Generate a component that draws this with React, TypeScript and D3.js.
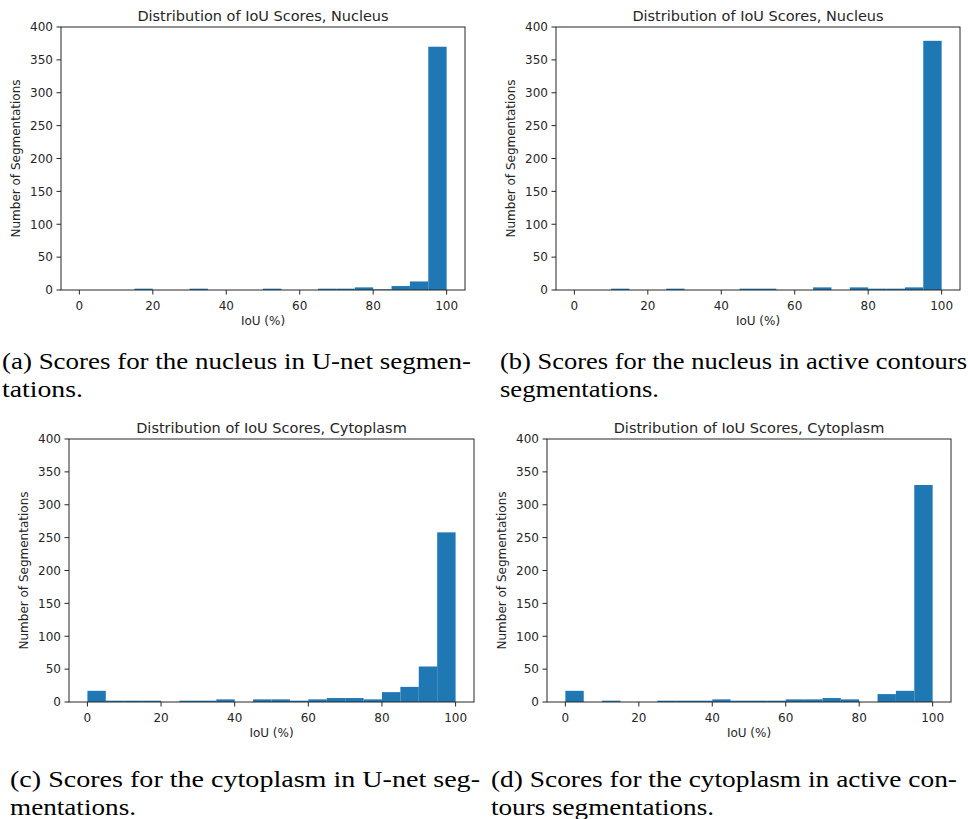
import React from "react";
import * as d3 from "d3";

// Histogram bins: 20 bins of width 5 over IoU 0..100
const binEdges = d3.range(0, 101, 5);
const nucleusUnet = [0, 0, 0, 2, 0, 0, 2, 0, 0, 0, 2, 0, 0, 2, 2, 4, 1, 6, 13, 370];
const nucleusActive = [0, 0, 2, 0, 0, 2, 0, 0, 0, 2, 2, 0, 0, 4, 0, 4, 2, 2, 4, 379];
const cytoUnet = [17, 2, 2, 2, 0, 2, 2, 4, 0, 4, 4, 2, 4, 6, 6, 4, 15, 23, 54, 258];
const cytoActive = [17, 0, 2, 0, 0, 2, 2, 2, 4, 2, 2, 2, 4, 4, 6, 4, 0, 12, 17, 330];

const xTicks = [0, 20, 40, 60, 80, 100];
const yTicks = [0, 50, 100, 150, 200, 250, 300, 350, 400];

const titles = [
  "Distribution of IoU Scores, Nucleus",
  "Distribution of IoU Scores, Nucleus",
  "Distribution of IoU Scores, Cytoplasm",
  "Distribution of IoU Scores, Cytoplasm",
];
const xLabel = "IoU (%)";
const yLabel = "Number of Segmentations";

const captions = [
  ["(a) Scores for the nucleus in U-net segmen-", "tations."],
  ["(b) Scores for the nucleus in active contours", "segmentations."],
  ["(c) Scores for the cytoplasm in U-net seg-", "mentations."],
  ["(d) Scores for the cytoplasm in active con-", "tours segmentations."],
];

const panelData = [nucleusUnet, nucleusActive, cytoUnet, cytoActive];

// layout
const frames = [
  { left: 61, top: 27, width: 404, height: 263 },
  { left: 556, top: 27, width: 404, height: 263 },
  { left: 69, top: 439, width: 405, height: 263 },
  { left: 547, top: 439, width: 404, height: 263 },
];
const captionPos = [
  { x: 2, x2: 471, w2: 81, y: 369 },
  { x: 500, x2: 967, w2: 159, y: 369 },
  { x: 10, x2: 480, w2: 126, y: 787 },
  { x: 491, x2: 957, w2: 223, y: 787 },
];

const BAR = "#1f77b4";
const INK = "#262626";
const FONT = "DejaVu Sans, sans-serif";
const SERIF = "'Liberation Serif', 'Times New Roman', serif";

function Panel({ idx }: { idx: number }) {
  const f = frames[idx];
  const counts = panelData[idx];
  const x = d3.scaleLinear().domain([-5, 105]).range([f.left, f.left + f.width]);
  const y = d3.scaleLinear().domain([0, 400]).range([f.top + f.height, f.top]);
  const bottom = f.top + f.height;
  return (
    <g>
      {counts.map((c, i) =>
        c > 0 ? (
          <rect
            key={i}
            x={x(binEdges[i])}
            y={y(c)}
            width={x(binEdges[i + 1]) - x(binEdges[i])}
            height={y(0) - y(c)}
            fill={BAR}
          />
        ) : null
      )}
      <rect
        x={f.left}
        y={f.top}
        width={f.width}
        height={f.height}
        fill="none"
        stroke={INK}
        strokeWidth={1}
      />
      {xTicks.map((t) => (
        <g key={"x" + t}>
          <line x1={x(t)} x2={x(t)} y1={bottom} y2={bottom + 4.5} stroke={INK} strokeWidth={1} />
          <text
            x={x(t)}
            y={bottom + 19.5}
            textAnchor="middle"
            style={{ fontFamily: FONT, fontSize: 12 }}
            fill={INK}
          >
            {t}
          </text>
        </g>
      ))}
      {yTicks.map((t) => (
        <g key={"y" + t}>
          <line x1={f.left - 4.5} x2={f.left} y1={y(t)} y2={y(t)} stroke={INK} strokeWidth={1} />
          <text
            x={f.left - 8}
            y={y(t)}
            dy="0.36em"
            textAnchor="end"
            style={{ fontFamily: FONT, fontSize: 12 }}
            fill={INK}
          >
            {t}
          </text>
        </g>
      ))}
      <text
        x={f.left + f.width / 2}
        y={bottom + 34.5}
        textAnchor="middle"
        style={{ fontFamily: FONT, fontSize: 12 }}
        fill={INK}
      >
        {xLabel}
      </text>
      <text
        transform={`translate(${f.left - 41.5},${f.top + f.height / 2}) rotate(-90)`}
        textAnchor="middle"
        style={{ fontFamily: FONT, fontSize: 12 }}
        fill={INK}
      >
        {yLabel}
      </text>
      <text
        x={f.left + f.width / 2}
        y={f.top - 6.5}
        textAnchor="middle"
        style={{ fontFamily: FONT, fontSize: 14.5 }}
        fill={INK}
      >
        {titles[idx]}
      </text>
    </g>
  );
}

function Caption({ idx }: { idx: number }) {
  const p = captionPos[idx];
  const [l1, l2] = captions[idx];
  return (
    <g fill="#000">
      <text
        x={p.x}
        y={p.y}
        textLength={p.x2 - p.x}
        lengthAdjust="spacingAndGlyphs"
        style={{ fontFamily: SERIF, fontSize: 23 }}
      >
        {l1}
      </text>
      <text
        x={p.x}
        y={p.y + 28}
        textLength={p.w2}
        lengthAdjust="spacingAndGlyphs"
        style={{ fontFamily: SERIF, fontSize: 23 }}
      >
        {l2}
      </text>
    </g>
  );
}

export default function App() {
  return (
    <svg
      width={968}
      height={819}
      style={{ position: "absolute", left: 0, top: 0, background: "#fff" }}
    >
      <rect x={0} y={0} width={968} height={819} fill="#fff" />
      {[0, 1, 2, 3].map((i) => (
        <Panel key={i} idx={i} />
      ))}
      {[0, 1, 2, 3].map((i) => (
        <Caption key={"c" + i} idx={i} />
      ))}
    </svg>
  );
}
